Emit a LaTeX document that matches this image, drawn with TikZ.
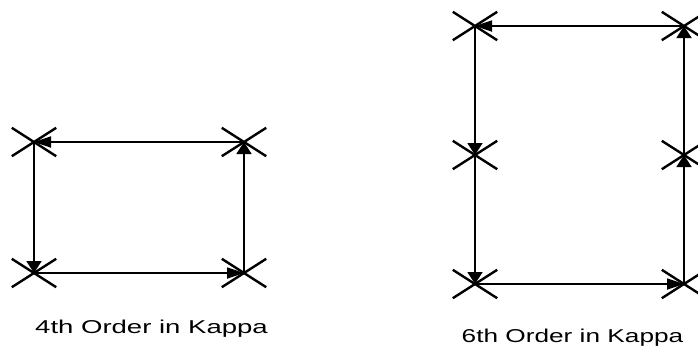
\documentclass[tikz,border=0pt]{standalone}
\usepackage{fontspec}
\setmainfont{Liberation Sans}
\usetikzlibrary{arrows.meta,shapes.misc}
\tikzset{
  xmark/.style={draw=black, cross out, line width=2.4bp, minimum width=42bp, minimum height=26bp, inner sep=0pt},
  harrow/.style={line width=1.8bp, -{Triangle[length=17bp,width=11bp]}},
  varrow/.style={line width=1.8bp, -{Triangle[length=12bp,width=15bp]}},
  caption/.style={anchor=base, inner sep=0pt, font=\fontsize{18.6bp}{20bp}\selectfont}
}
\begin{document}
\begin{tikzpicture}[x=1bp,y=-1bp]
\useasboundingbox (0,0) rectangle (698,348);
% 4th order
\node[xmark] (a1) at (34,142) {};
\node[xmark] (a2) at (244,142) {};
\node[xmark] (a3) at (34,273) {};
\node[xmark] (a4) at (244,273) {};
\draw[harrow] (a2.center) -- (a1.center);
\draw[varrow] (a1.center) -- (a3.center);
\draw[harrow] (a3.center) -- (a4.center);
\draw[varrow] (a4.center) -- (a2.center);
\node[caption] (t1) at (151.5,333) {\scalebox{1.48}[1]{4th Order in Kappa}};
% 6th order
\node[xmark] (b1) at (475,26) {};
\node[xmark] (b2) at (684,26) {};
\node[xmark] (b3) at (475,155) {};
\node[xmark] (b4) at (684,155) {};
\node[xmark] (b5) at (475,284) {};
\node[xmark] (b6) at (684,284) {};
\draw[harrow] (b2.center) -- (b1.center);
\draw[varrow] (b1.center) -- (b3.center);
\draw[varrow] (b3.center) -- (b5.center);
\draw[harrow] (b5.center) -- (b6.center);
\draw[varrow] (b6.center) -- (b4.center);
\draw[varrow] (b4.center) -- (b2.center);
\node[caption] (t2) at (572.5,342.5) {\scalebox{1.41}[1]{6th Order in Kappa}};
\end{tikzpicture}
\end{document}
